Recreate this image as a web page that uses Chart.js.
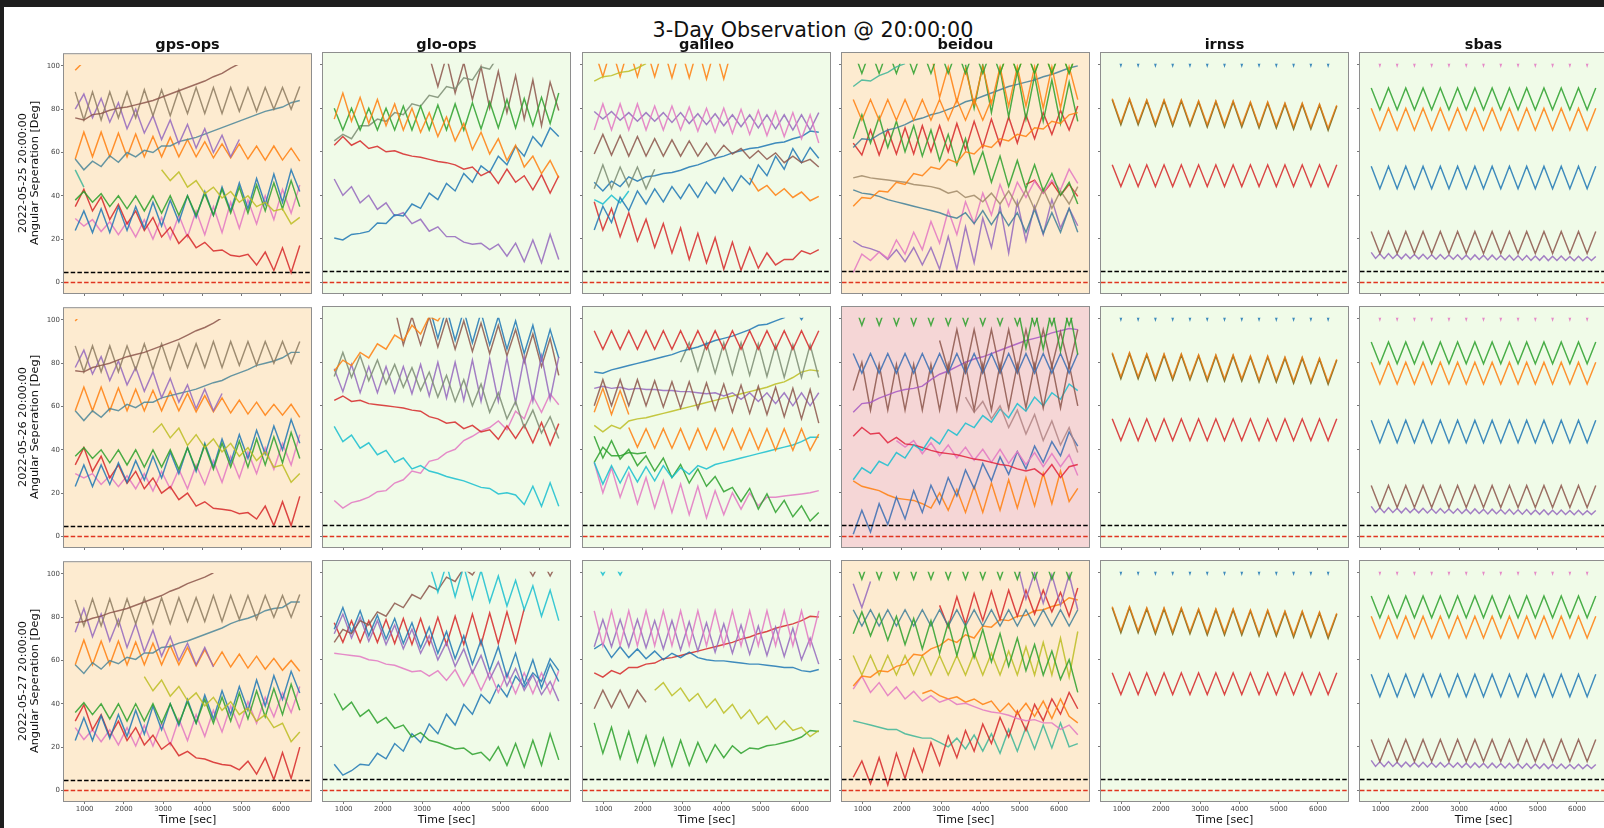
<!DOCTYPE html>
<html>
<head>
<meta charset="utf-8">
<title>3-Day Observation @ 20:00:00</title>
<script src="https://cdn.jsdelivr.net/npm/chart.js@4.4.1/dist/chart.umd.min.js"></script>
<style>
  html, body { margin: 0; padding: 0; background: #fff; }
  body { width: 1604px; height: 828px; position: relative; overflow: hidden; font-family: "DejaVu Sans", sans-serif; color: #111; }
  .bar { position: absolute; background: #1e1e1e; }
  canvas { position: absolute; }
  .txt { position: absolute; white-space: nowrap; line-height: 1; }
  .sup { font-size: 20.7px; transform: translateX(-50%); }
  .col { font-size: 14.5px; font-weight: bold; transform: translateX(-50%); }
  .xl { font-size: 11px; transform: translateX(-50%); }
  .yl { font-size: 11.3px; transform: translate(-50%, -50%) rotate(-90deg); }
</style>
</head>
<body>
<div class="bar" style="left:0;top:0;width:1604px;height:7px"></div>
<div class="bar" style="left:0;top:0;width:4px;height:828px"></div>
<script>
const _ = null;

// ---- time axis (seconds) ----
const T = [760, 980, 1200, 1420, 1640, 1860, 2080, 2300, 2520, 2740, 2960, 3180, 3400, 3620, 3840, 4060, 4280, 4500, 4720, 4940, 5160, 5380, 5600, 5820, 6040, 6260, 6480];
const T_HALF = [760, 870, 980, 1090, 1200, 1310, 1420, 1530, 1640, 1750, 1860, 1970, 2080, 2190, 2300, 2410, 2520, 2630, 2740, 2850, 2960, 3070, 3180, 3290, 3400, 3510, 3620, 3730, 3840, 3950, 4060, 4170, 4280, 4390, 4500, 4610, 4720, 4830, 4940, 5050, 5160, 5270, 5380, 5490, 5600, 5710, 5820, 5930, 6040, 6150, 6260, 6370, 6480];

const CONSTELLATIONS = ['gps-ops', 'glo-ops', 'galileo', 'beidou', 'irnss', 'sbas'];
const DAYS = ['2022-05-25 20:00:00', '2022-05-26 20:00:00', '2022-05-27 20:00:00'];
const STATUS = [
  ['warn', 'ok', 'ok', 'warn', 'ok', 'ok'],
  ['warn', 'ok', 'ok', 'alert', 'ok', 'ok'],
  ['warn', 'ok', 'ok', 'warn', 'ok', 'ok']
];
const X_TICKS = [1000, 2000, 3000, 4000, 5000, 6000];
const Y_TICKS = [0, 20, 40, 60, 80, 100];
const THRESHOLD_VALUES = [5, 0];
const THRESHOLD_COLORS = ['#000000', '#e0341f'];

// ---- gps-ops, day 1 ----
const g1_orangeTop = [98, 102];
const g1_brown = [76, 75, 77.5, 78, 79.5, 80.5, 81, 82, 83, 84, 85.5, 87, 88.5, 90, 91.5, 93, 95, 96.5, 99, 101];
const g1_olive = [88, 75, 88, 75, 88, 76, 88, 76, 89, 77, 89, 77, 89, 78, 90, 78, 90, 78, 90, 79, 90, 79, 90, 80, 90, 80, 90.5];
const g1_purple = [80, 87, 76, 85, 74, 83, 71, 80, 69, 77, 66, 75, 64, 73, 62, 71, 60, 68, 58, 66];
const g1_teal = [57, 52, 56, 53.5, 58.5, 55.5, 60, 58, 61, 60, 63, 63, 65, 66, 67, 68.5, 70, 71.5, 73, 74.5, 76, 77.5, 79, 80, 81, 83, 84];
const g1_orange = [57, 69.5, 58, 69.5, 58, 69, 58, 68.5, 58, 67.5, 58, 67, 58, 66, 58, 65, 57.5, 64, 57.5, 64, 57, 63, 56.5, 63, 56.5, 62, 56];
const g1_greenShort = [52, 44];
const g1_yellow = [_, _, _, _, _, _, _, _, _, _, 52, 47, 51, 44, 47, 41, 44, 39, 42, 37, 40, 35, 37, 33, 34, 27, 30];
const g1_green = [38, 42, 37, 41, 35, 40, 34, 40, 33, 40, 32, 40, 31, 40, 31, 41, 31, 43, 32, 44, 32, 45, 33, 46, 34, 47, 35];
const g1_blue = [24, 33, 23, 34, 23, 35, 24, 35, 25, 37, 26, 38, 28, 40, 30, 42, 31, 44, 33, 46, 34, 48, 36, 50, 37, 52, 42];
const g1_red = [35, 43, 33, 39.5, 29, 36, 27, 33, 24, 30, 21, 25.5, 18, 22, 16, 18.5, 14.5, 15, 12.5, 12, 13, 8, 14, 5.5, 16, 4.5, 17];
const g1_pink = [29.5, 26, 29, 23.5, 28, 22, 28, 21, 29, 20, 30, 20, 31, 21, 33, 22, 35, 23, 37, 25, 38, 27, 40, 29, 43, 32, 45];

// ---- gps-ops, day 2 ----
const g2_orangeTop = [99.5, 104];
const g2_brown = [76.5, 76, 78, 79, 80, 81.5, 83, 84, 85, 86.5, 88, 89.5, 91, 93, 95, 96.5, 98.5, 101];
const g2_olive = [88, 76, 88, 76, 88, 76, 88, 77, 89, 77, 89, 77, 89, 78, 89, 78, 90, 78, 90, 79, 90, 79, 90, 80, 90, 80, 90];
const g2_purple = [78, 86, 75, 83, 72, 81, 70, 78, 67, 76, 64, 73, 62, 70, 59, 68, 58, 66];
const g2_teal = [58, 53.5, 58, 55, 59, 58, 61, 59.5, 62, 62, 64, 65, 66, 67, 68, 69.5, 71, 72, 74, 75.5, 77, 79, 80, 81, 82.5, 85, 85];
const g2_orange = [58, 69, 58, 69, 58, 68.5, 58, 68, 58, 67.5, 58, 67, 58, 66, 57.5, 65, 57.5, 64, 57, 63, 56.5, 62, 56, 61, 56, 61, 55];
const g2_yellow = [_, _, _, _, _, _, _, _, _, 48, 52, 45.5, 50, 42, 47, 41, 45, 39, 43, 37, 41, 35, 39, 32, 33, 25, 29];
const g2_green = [37, 41, 36, 40, 34, 40, 33, 40, 32, 40, 32, 40, 31, 41, 31, 42, 31, 43, 32, 44, 32, 45, 33, 46, 34, 48, 36];
const g2_blue = [23, 33, 23, 33, 24, 34, 25, 35, 26, 37, 27, 39, 29, 41, 30, 43, 32, 45, 34, 47, 36, 49, 38, 51, 40, 54, 43];
const g2_red = [33, 41, 30, 37, 27, 33, 24.5, 30, 22, 27, 20, 23, 17, 20, 14, 16, 13, 12.5, 12, 10.5, 11, 8, 14, 5, 16, 5, 18.5];
const g2_pink = [29, 27, 29, 24, 28, 23, 28, 22, 29, 21, 30, 22, 31, 22, 33, 24, 35, 25, 37, 27, 39, 29, 41, 31, 43, 33, 47];

// ---- gps-ops, day 3 ----
const g3_brown = [77.5, 78, 79.5, 80.5, 82, 83, 84, 85.5, 87, 88.5, 90, 92, 93.5, 95.5, 97, 98.5, 100.5];
const g3_olive = [88, 76, 88.5, 76, 88.5, 76, 88.5, 77, 89, 77, 89, 77, 89, 78, 89, 78, 90, 78, 90, 79, 90, 79, 90, 80, 90, 80, 90.5];
const g3_purple = [73, 84, 71, 81.5, 69, 79, 66, 77, 64, 74, 62, 71, 60, 68, 58, 66, 57];
const g3_teal = [58, 54, 59, 56, 60, 58.5, 61.5, 60.5, 63.5, 63.5, 66, 66.5, 68, 69, 70.5, 72, 73.5, 75, 77, 78.5, 79.5, 81, 83, 84, 84.5, 87, 87];
const g3_orange = [58, 69.5, 58, 69, 58, 69, 58, 68.5, 58, 68, 58, 67, 58, 66, 57.5, 65, 57.5, 64, 57, 63, 56.5, 62, 56, 61, 55.5, 60, 55];
const g3_yellow = [_, _, _, _, _, _, _, _, 52.5, 46, 51, 43.5, 48, 41.5, 45, 39, 43, 37, 41, 35, 38, 32, 35, 29, 31, 22.5, 27];
const g3_green = [36, 40.5, 35, 40, 33, 40, 32, 40, 32, 40, 31, 40, 31, 41, 31, 42, 31, 43, 32, 45, 33, 46, 34, 47, 35, 49, 37];
const g3_blue = [23, 33.5, 23, 34.5, 24, 35, 25, 37, 26, 39, 28, 40, 30, 42, 31, 44, 33, 46, 35, 48, 37, 51, 39, 53, 42, 55, 45];
const g3_red = [32, 39.5, 28, 35, 25, 32, 23, 29, 21, 25.5, 19, 22, 16, 18, 15, 14.5, 13, 12, 11.5, 9.5, 13.5, 7.5, 15, 5, 17.5, 5.5, 20];
const g3_pink = [29, 23.5, 28, 22.5, 28, 21, 29, 20.5, 30, 20.5, 31, 21, 33, 23, 35, 25, 37, 27, 39, 29, 41, 31, 43, 34, 45, 36, 48];

// ---- glo-ops ----
const o1_orange = [75, 87, 74, 85, 73, 84, 72, 82, 70, 80, 69, 78, 67, 76, 65, 73, 61, 69, 59, 66, 56, 63, 53, 58, 50, 56, 48];
const o1_green = [80, 70, 80, 70, 80, 70, 80, 70, 81, 70, 81, 70, 81.5, 70, 82, 70, 82.5, 70.5, 83, 71, 84, 71, 84.5, 72, 85, 73, 87];
const o1_gray = [65, 68, 66, 72, 72, 75, 74, 78, 77, 82, 81, 86, 85, 90, 89, 94, 93, 99, 98, 104];
const o1_brown = [_, _, _, _, _, _, _, _, _, _, _, 104, 90, 104, 87, 101, 84, 99, 80, 97, 78, 95, 75, 93, 72, 92, 79];
const o1_red = [63, 67, 63, 65, 61.5, 62.5, 60, 60.5, 59, 58, 57.5, 56.5, 55.5, 55, 54, 52, 53, 49, 51, 45.5, 52, 46, 49, 42.5, 49.5, 41, 49];
const o1_blue = [20.4, 19.5, 22, 22.5, 23.4, 27.3, 27, 31, 30.5, 36, 34, 41, 38, 45.5, 42, 50, 46, 53.5, 50.5, 58, 54, 62.5, 58, 67, 62.5, 71, 67];
const o1_purple = [47.5, 40, 44, 36.5, 40, 33.5, 36.5, 30.5, 32, 27, 29, 23.5, 25.5, 21, 21, 18.5, 17.5, 18, 15, 17.5, 12, 18, 9.5, 19.5, 9, 22, 10.5];

const o2_orange = [76, 81, 78.5, 84.5, 82, 88.5, 86, 92.5, 90, 97, 93, 101, 99, 105];
const o2_gray = [73.5, 84.5, 73, 83, 71.5, 81, 70, 79, 68.5, 77.5, 67, 75.5, 64, 74, 62, 72, 60, 70, 57, 66, 54, 62, 50, 58, 47.5, 55, 45];
const o2_purple = [77, 66.5, 79, 66, 78, 66, 78, 66, 78, 65.5, 79, 64.5, 80, 63.5, 80, 62.5, 81, 62, 81.5, 62, 82, 61.5, 82.5, 62, 83, 63, 82.5];
const o2_brown = [_, _, _, _, _, _, _, 105, 88, 101, 88, 101, 87, 100, 86, 99, 85, 98, 84, 97, 83, 95, 80, 93, 78, 91, 74];
const o2_blue = [_, _, _, _, _, _, _, _, _, _, _, 106, 91, 105, 90, 104, 89, 103, 88, 101, 86, 99, 84, 97, 81, 95, 82];
const o2_red = [62.5, 64.5, 62, 62.5, 61, 60.5, 60, 59.5, 59, 58, 57.5, 55, 54, 52, 52.5, 49.5, 51, 48, 49, 44.6, 50.8, 45, 51.2, 43, 52.3, 42, 51.8];
const o2_cyan = [50.5, 43.5, 46.5, 40.5, 43, 37.5, 39.5, 34, 36, 31, 32.5, 30, 29, 27.5, 26.5, 25.5, 24, 22.5, 22, 19.5, 20, 19, 14.6, 23, 13.8, 24.6, 13.8];
const o2_pink = [16.5, 13, 15.5, 16.5, 18, 20.5, 21, 24.5, 26, 30, 29, 34.5, 35.5, 38.5, 40, 44, 46, 48.5, 50, 53, 49, 57.5, 54, 64.5, 57, 65.5, 60.5];

const o3_cyan = [_, _, _, _, _, _, _, _, _, _, _, 104, 91, 104, 89, 103, 88, 101, 86.5, 98.5, 84.7, 96.5, 83, 94, 80, 92, 78];
const o3_brown = [68, 74, 72, 78, 76, 82, 80, 86, 84, 90, 88, 94, 92, 98, 96, 102, 99, 105, 104, 106, 105, 106, 105, 98.5, 106, 98.5, 106];
const o3_blue = [74, 84, 72.5, 82.5, 71, 80.5, 69.5, 79, 67.5, 77, 65.5, 75, 63, 73, 60.5, 71, 58, 69, 55, 66, 52, 63, 49, 60, 47, 58, 50];
const o3_purple = [72, 81, 70, 79.5, 68.5, 78, 67, 76, 65, 74, 63, 71, 60, 68, 57, 65, 54, 62, 51, 59, 48, 56, 46, 53, 44, 50, 41];
const o3_red = [77, 68, 78, 68, 78, 68, 78.5, 67.5, 79, 67, 79, 67, 79.5, 67, 80, 67, 81, 67, 81.5, 67.5, 82, 68, 83.5];
const o3_pink = [63, 62.5, 62, 61.5, 60, 59.5, 58, 57.5, 56, 54.5, 55, 52.5, 55, 50.5, 55.5, 48, 55, 46, 54.5, 45, 54, 44.5, 54, 44.5, 54, 44.5, 55];
const o3_green = [44.5, 37, 40.5, 34, 37, 31, 33.5, 28.5, 30, 24.5, 26.5, 23, 22, 20.5, 19, 19.5, 16.5, 17.5, 13.7, 20, 11.5, 21.5, 10.7, 23, 11.5, 26, 14];
const o3_blue2 = [12, 7, 9, 12, 11.5, 17, 14.5, 21.5, 18, 26, 22, 30.5, 26, 35, 30, 39.5, 35, 44, 40, 48.5, 43, 52.5, 47.5, 54, 50, 60.5, 55];

// ---- galileo ----
const e1_olive = [92.5, 94.5, 95, 96.5, 97, 98.5, 100.5];
const e1_orangeV = [107, 94.5, 108, 94.5, 108, 94.5, 108, 94.5, 108, 94, 108, 94, 108, 93.5, 108, 93.5, 108];
const e1_pink = [70, 82, 70, 82, 70, 82, 70, 81, 70, 81, 70, 80.5, 69.5, 80, 69, 80, 68.5, 79.5, 68, 79, 67.5, 78.5, 67, 78, 66, 77, 64];
const e1_purple = [78.5, 75, 78.5, 74.5, 78, 74, 78, 74, 78, 73.5, 78, 73, 77.5, 72.5, 77.5, 72, 77, 71.5, 77, 71, 77, 70.5, 77, 70, 77, 70, 78];
const e1_brown = [59, 68, 58.5, 67.5, 58, 67, 58, 66, 58, 65.5, 58, 65, 58, 64, 58, 63, 59, 61.5, 57, 60.5, 56.5, 59.5, 55, 58, 55, 56.5, 53];
const e1_gray = [43, 54, 43, 53, 44, 53, 43, 52];
const e1_blueSmooth = [46, 42, 46.5, 44, 48.5, 46.5, 48.5, 49, 50, 50.5, 51.5, 53, 54, 55.5, 57, 58, 59.5, 60.5, 61.5, 62, 63, 64, 64.5, 66, 67, 69.5, 69];
const e1_blueZig = [24, 35, 27.5, 39, 33, 42, 36, 43, 37, 44, 38.5, 45, 39, 46, 41, 48, 42, 49, 45, 54, 49, 58, 52, 61.5, 55, 62, 57];
const e1_cyan = [38, 36, 40, 36.5, 42];
const e1_orange = [_, _, _, _, _, _, _, _, _, _, _, _, _, _, _, _, _, _, 48, 42, 44.5, 40, 43, 39, 41.5, 37.5, 39.5];
const e1_red = [37, 24, 34, 21, 32, 19, 29, 16, 27, 13.5, 25, 10.5, 22.5, 9, 20.5, 6, 18.5, 5.5, 16, 6.5, 13.5, 8, 10.5, 10.5, 14.5, 13, 15];

const e2_red = [94.5, 86, 94.5, 86, 94.5, 86, 94.5, 86, 94.5, 86, 94.5, 86, 94.5, 86, 94.5, 86, 94.5, 86, 94.5, 86, 94.5, 86, 94.5, 86, 94.5, 86, 94.5];
const e2_blue = [75.5, 75, 76.5, 77.5, 78.5, 79.5, 80.5, 81.5, 82.5, 83.5, 85, 86, 87, 88.5, 90, 91, 92, 93.5, 95, 97, 97.5, 99, 100.5, 106, 99.6, 106];
const e2_gray = [_, _, _, _, _, _, _, _, _, _, 80, 89, 76, 89, 75, 89, 74.5, 89, 74, 88.5, 73.5, 88, 73, 88, 73, 88, 73];
const e2_brown = [60, 72, 60, 72, 60, 72, 60, 71.5, 59.5, 71, 59, 71, 58.5, 70.5, 58, 70, 57, 69.5, 56.5, 69, 56, 68.5, 55, 68, 54, 67.5, 52];
const e2_purple = [68, 69, 68, 68.5, 67.5, 68, 67.5, 67.5, 67, 67, 66.5, 66.5, 66, 65.5, 66, 64.5, 66, 63, 66, 62, 66, 61, 66, 60, 66, 60, 66];
const e2_orange1 = [57, 68, 56, 67, 56];
const e2_olive = [51, 48, 51, 49.5, 53, 54, 54.5, 55.5, 56.5, 57.5, 58.5, 59.5, 60.5, 61.5, 62.5, 63.5, 64.5, 65.5, 66.5, 67.5, 68.5, 70, 71, 73, 75.5, 76.5, 76];
const e2_orange2 = [_, _, _, _, 50, 41, 49.5, 40.5, 49.5, 40.5, 49.5, 40, 49.5, 40, 49.5, 40, 49.5, 40, 49.5, 40, 49.5, 39.5, 49.5, 39.5, 49.5, 39.5, 47];
const e2_cyan = [34, 24, 32.5, 24.5, 32, 25, 32, 25.5, 32.5, 27, 31.5, 28.5, 32.5, 31, 33, 34, 35, 36, 37, 38, 39, 40, 41, 42, 43.5, 45.5, 45.5];
const e2_green = [46, 36, 44, 35.5, 40, 32.5, 37, 30, 36, 27, 33, 24.5, 31, 23, 27.5, 20.5, 22.5, 16, 22, 12.5, 19.5, 11, 16.5, 9, 14, 7, 11];
const e2_green2 = [34, 41, 37, 37, 38.5, 38, 38.5];
const e2_pink = [34, 20, 31.5, 18, 29, 15, 27, 13, 25.5, 11, 24, 10, 23, 8.5, 21, 10, 20, 12.5, 20, 14, 18, 18, 18.5, 19, 19.5, 20, 21];

const e3_cyan = [106, 99, 106, 99, 106];
const e3_pink = [82.5, 66.5, 82.5, 66.5, 82.5, 66.5, 82.5, 66.5, 82.5, 66.5, 82.5, 66.5, 82.5, 66.5, 82.5, 66.5, 82.5, 66.5, 82.5, 66.5, 82.5, 66.5, 82.5, 66.5, 82.5, 66.5, 82.5];
const e3_purple = [66, 78.5, 66, 78.5, 66, 78.5, 65.5, 78, 65, 78, 64.5, 77.5, 64, 77, 63.5, 76.5, 63, 76, 62.5, 75.5, 62, 75, 61.5, 74.5, 60, 70, 58];
const e3_blue = [65, 67.5, 61, 66, 61, 65, 60.5, 64, 60, 63, 61, 63.5, 61, 60, 59.5, 59.5, 59, 58.5, 58, 58, 57.5, 57, 56.5, 56.5, 55, 54.5, 55.5];
const e3_red = [54, 52, 55, 53.5, 56.5, 56.5, 58, 58.5, 60.5, 61, 62, 63, 64, 65, 66, 67, 68, 69.5, 70.5, 72, 73, 74.5, 75.5, 76.5, 78, 80, 79.7];
const e3_brown = [37.5, 46, 38, 46, 38, 46, 40.5];
const e3_yellow = [_, _, _, _, _, _, _, 46, 49.5, 43.5, 47, 41, 44.5, 38, 42, 35.5, 39.5, 33, 37, 30.5, 34, 28, 32, 27.5, 29, 24.7, 27.5];
const e3_green = [31, 17, 29, 14.5, 27, 13, 25, 11.5, 24, 11, 23, 11.5, 22, 13, 21, 15, 20.5, 17, 19.5, 19, 20.5, 21, 22, 23, 24.5, 27.5, 27];

// ---- beidou ----
const b1_teal = [90, 93, 92.5, 95, 96.5, 99, 100.5];
const b1_greenV = [107, 96, 107, 96, 107, 96, 107, 96, 107, 96, 107, 96, 107, 96, 107, 96, 107, 96, 107, 96, 107, 96, 107, 96, 107, 96, 107];
const b1_oliveV = [_, _, _, _, _, _, _, _, _, _, _, _, _, _, _, _, _, 96, 107, 96, 107, 96, 107, 96, 107, 96, 107];
const b1_orange1 = [84, 74.5, 84, 74.5, 84, 74.5, 84, 74.5, 84, 74.5, 84, 74.5, 84, 74.5, 84, 74.5, 84];
const b1_orange2 = [_, _, _, _, _, _, _, _, _, 106, 85, 99, 83, 98, 82, 99, 82, 99, 81, 99, 81, 99, 80, 99, 80, 99, 84];
const b1_orange3 = [35, 39, 38.5, 42, 41.5, 46, 45, 50, 49, 53, 52, 56.5, 55, 60, 59, 63, 62, 66, 65, 68, 67, 71, 70.5, 74, 73, 77, 78];
const b1_steel = [62, 66, 65.5, 68, 70, 71, 72.5, 74.5, 75.5, 77, 78, 79.5, 81, 83, 84, 85.5, 87, 88.5, 90, 91, 92, 93, 94.5, 95.5, 97, 98.5, 99.5];
const b1_green1 = [66, 77, 64, 76, 62, 74, 60, 72, 58, 70, 56, 68, 54, 66, 50, 60, 46, 58, 44, 56, 43, 54, 42, 50, 40, 46, 36];
const b1_green2 = [_, _, _, _, _, _, _, _, _, _, _, _, _, 100, 80, 100, 78, 98, 76, 97, 75, 95, 74, 93, 73, 92, 74];
const b1_red = [64, 58.5, 70, 58.5, 70, 59, 71, 59, 72, 60, 72, 60, 73, 61, 74, 62, 75, 63, 76, 64, 77, 66, 78, 68, 79, 70, 81];
const b1_tan = [48, 49, 48, 47.5, 47, 46.5, 46, 45, 44.5, 44, 43, 41, 42, 39, 40, 37, 41, 36, 42, 35, 42.5, 33.5, 43, 34, 42, 36, 44];
const b1_blueDk = [42.5, 41, 40.5, 39.5, 38, 37, 36, 35, 34, 33, 32, 30.5, 29.5, 32, 27, 33, 26.5, 32.5, 26, 32, 23, 33.5, 22.5, 32, 23, 34, 23];
const b1_pink = [4.5, 13, 10, 14, 11, 19.5, 13, 23, 15, 28, 18, 33, 22, 37, 27, 41, 31, 45, 35, 46, 39, 46.5, 41, 47, 42.5, 52, 45.5];
const b1_purple = [19, 16.5, 15.5, 14, 10.5, 15, 9.5, 16, 8, 16, 6, 21, 6, 25.5, 9, 29.5, 16, 35, 13.5, 37, 19, 35, 22, 38, 25, 34, 26];
const b1_red2 = [_, _, _, _, _, _, _, _, _, _, _, _, _, _, _, _, _, _, _, _, 45, 47, 41, 46, 40, 45, 39.5];

const b2_greenV = [108, 97, 108, 97, 108, 97, 108, 97, 108, 97, 108, 97, 108, 97, 108, 97, 108, 97, 108, 97, 108, 97, 108, 97, 108, 97, 108];
const b2_green2 = [_, _, _, _, _, _, _, _, _, _, _, _, _, _, _, _, _, _, _, 106, 86.5, 105, 86, 105, 85, 105, 83.5];
const b2_brownU = [_, _, _, _, _, _, _, _, _, _, 90, 76, 95, 76, 95, 76, 95, 76, 95, 76, 95, 77, 95, 78, 94, 78, 95];
const b2_blue = [84, 75, 84, 75, 84, 75, 84, 75, 84, 75, 84, 75, 84, 75, 84, 75, 84, 75, 84, 75, 84, 75, 84, 75, 84, 75, 84];
const b2_purple = [57, 61, 61.5, 63.5, 65, 66.5, 67.5, 68, 69, 72, 74.5, 76, 78, 80, 81.5, 82.5, 84, 85.5, 87, 88.5, 90, 91, 92, 93.5, 94.5, 95.5, 95];
const b2_brownA = [67, 80, 58, 79, 58, 79, 58, 79, 58, 79, 58, 79, 58, 79, 58, 79, 58, 79, 58.5, 79, 59, 79, 59, 79, 59, 79, 60];
const b2_rosy = [_, _, _, _, _, _, _, _, _, _, _, _, _, 64, 57, 62, 54, 60, 50, 58, 47, 56, 44, 53, 42, 50, 38.5];
const b2_cyan = [26, 31.5, 29, 34.5, 32.5, 38.5, 36, 42, 39.5, 45.5, 42.5, 49, 46.5, 52, 50, 55.5, 52.5, 58.5, 54.5, 61, 57.5, 64, 60, 66, 63, 70, 67];
const b2_red = [46, 50, 47, 47.5, 43, 45.5, 42.5, 42, 40.8, 39.5, 38.5, 38, 37.5, 36.5, 35.5, 35, 34, 33, 32.5, 31, 30, 31, 28, 33, 27, 32, 33];
const b2_pink = [_, _, _, _, _, 44, 41, 44, 38, 43, 37, 42, 36, 41, 35, 40, 34, 40, 33.5, 39, 33, 38.5, 32, 38, 32, 37.5, 28];
const b2_blue2 = [1, 12, 2, 15, 5.5, 18, 8, 21, 11, 23.5, 15, 27, 18.5, 30.5, 22, 33.5, 25.5, 36.5, 28.5, 39, 31, 41.5, 34, 43.5, 37, 48, 41.5];
const b2_orange = [25.5, 23, 22, 21, 19, 17.5, 17, 16.5, 15, 13, 20, 12, 21.5, 11, 23, 11, 24.5, 12, 26, 13, 27, 14, 29, 15, 30, 16, 22];

const b3_greenV = [108, 97, 108, 97, 108, 97, 108, 97, 108, 97, 108, 97, 108, 97, 108, 97, 108, 97, 108, 97, 108, 97, 108, 97, 108, 97, 108];
const b3_purple = [95, 84, 96];
const b3_purple2 = [_, _, _, _, _, _, _, _, _, _, _, _, _, _, _, _, _, _, _, 104, 88, 100, 86, 99, 85, 99, 83];
const b3_green = [72, 82, 71, 81, 69, 80, 67, 79, 65, 78, 63, 77, 62, 76, 61, 74, 59, 72, 57, 70, 55, 67, 53, 64, 51, 60, 45];
const b3_blue = [83, 75.5, 83, 75.5, 83, 75.5, 83, 75.5, 83, 75.5, 83, 75.5, 83, 75.5, 83, 75.5, 83, 75.5, 83, 75.5, 83, 75.5, 83, 75.5, 83, 75.5, 83];
const b3_red = [_, _, _, _, _, _, _, _, _, _, 85, 75, 89, 76.5, 90.5, 78, 91.5, 78.5, 92, 80, 92, 81, 92, 82, 91, 80, 93];
const b3_orange = [48, 52.5, 52, 55, 54.5, 57, 58, 62.5, 62, 65, 66.5, 69.5, 68, 71.5, 70, 75.5, 75, 78.5, 78, 80, 80.5, 82.5, 83, 84.5, 85.5, 88.5, 87.5];
const b3_yellow = [62, 53, 62, 53, 62, 53, 62, 53, 62, 53, 62, 53, 62, 53, 63, 53, 63, 53, 64, 53, 66, 53, 68, 53, 70, 52, 73];
const b3_pink = [46.5, 52.5, 45, 49.5, 43.5, 47.5, 42, 45.5, 41, 43.5, 40.5, 42, 39.5, 40, 38.5, 37, 36, 35.5, 34.5, 33, 32, 32.5, 31, 31, 28, 30, 25.5];
const b3_orange2 = [_, _, _, _, _, _, _, _, 44.5, 46, 43.5, 42, 43, 40.5, 42, 39.5, 41, 36, 40, 35, 40, 34, 41, 33, 42, 34, 31];
const b3_red2 = [6, 13.5, 3, 15, 2.5, 17, 5.5, 19, 8.5, 22, 11.5, 25, 15, 27.5, 18, 30.5, 21.5, 33.5, 24.5, 36.5, 27.5, 39.5, 32, 42, 35, 45, 37.5];
const b3_teal = [32, 31, 30, 29, 28, 28, 26, 25, 24, 24, 22, 20, 24, 19, 25.5, 18, 26, 17, 28, 18, 29, 19, 30, 19.5, 31, 20, 21.5];

// ---- irnss (same geometry each day) ----
const ir_top = [112, 99.6, 112, 99.6, 112, 99.6, 112, 99.6, 112, 99.6, 112, 99.6, 112, 99.6, 112, 99.6, 112, 99.6, 112, 99.6, 112, 99.6, 112, 99.6, 112, 99.6, 112];
const ir_orange = [84.5, 73.5, 84.5, 73.5, 84, 73, 84, 73, 84, 73, 83.5, 72.5, 83.5, 72.5, 83.5, 72.5, 83, 72, 83, 72, 82.5, 71.5, 82.5, 71.5, 82, 71, 81.5];
const ir_olive = [84, 72.5, 84, 72.5, 83.5, 72, 83.5, 72, 83.5, 72, 83, 71.5, 83, 71.5, 83, 71.5, 82.5, 71, 82.5, 71, 82, 70.5, 82, 70.5, 81.5, 70, 81];
const ir_red = [54, 44, 54, 44, 54, 44, 54, 44, 54, 44, 54, 44, 54, 44, 54, 44, 54, 44, 54, 44, 54, 44, 54, 44, 54, 44, 54];

// ---- sbas (same geometry each day) ----
const sb_top = [112, 99.6, 112, 99.6, 112, 99.6, 112, 99.6, 112, 99.6, 112, 99.6, 112, 99.6, 112, 99.6, 112, 99.6, 112, 99.6, 112, 99.6, 112, 99.6, 112, 99.6, 112];
const sb_green = [89.3, 79.3, 89.3, 79.3, 89.3, 79.3, 89.3, 79.3, 89.3, 79.3, 89.3, 79.3, 89.3, 79.3, 89.3, 79.3, 89.3, 79.3, 89.3, 79.3, 89.3, 79.3, 89.3, 79.3, 89.3, 79.3, 89.3];
const sb_orange = [80, 70, 80, 70, 80, 70, 80, 70, 80, 70, 80, 70, 80, 70, 80, 70, 80, 70, 80, 70, 80, 70, 80, 70, 80, 70, 80];
const sb_blue = [53.3, 43, 53.3, 43, 53.3, 43, 53.3, 43, 53.3, 43, 53.3, 43, 53.3, 43, 53.3, 43, 53.3, 43, 53.3, 43, 53.3, 43, 53.3, 43, 53.3, 43, 53.3];
const sb_brown = [23.4, 13.2, 23.4, 13.2, 23.4, 13.2, 23.4, 13.2, 23.4, 13.2, 23.4, 13.2, 23.4, 13.2, 23.4, 13.2, 23.4, 13.2, 23.4, 13.2, 23.4, 13.2, 23.4, 13.2, 23.4, 13.2, 23.4];
const sb_purple = [13.8, 11.0, 13.1, 10.9, 13.2, 11.0, 12.9, 10.8, 13.0, 10.9, 12.8, 10.8, 12.9, 10.7, 12.7, 10.6, 12.8, 10.7, 12.6, 10.6, 12.7, 10.5, 12.5, 10.4, 12.6, 10.5, 12.4, 10.3, 12.5, 10.4, 12.3, 10.3, 12.4, 10.2, 12.2, 10.2, 12.3, 10.1, 12.1, 10.1, 12.2, 10.0, 12.0, 10.0, 12.1, 10.0, 11.9, 9.9, 12.0, 9.9, 11.8, 10.0, 11.9];

// ---- line colours ----
const C = {
  blue: '#1f77b4', orange: '#ff7f0e', green: '#2ca02c', red: '#d62728', purple: '#9467bd',
  brown: '#8c564b', pink: '#e377c2', gray: '#7f7f7f', olive: '#bcbd22', cyan: '#17becf',
  khaki: '#8d7b60', teal: '#4b8699', aqua: '#3cb596', grayGreen: '#7b8c72', tan: '#a08a68',
  steel: '#3f7f99', rosy: '#b08484', royal: '#3a6db3', violet: '#a657c2', crimson: '#e0223c', irOlive: '#837630'
};

// [values, colour, time axis, width, opacity]
const IRNSS = [[ir_top, C.blue], [ir_orange, C.orange, _, 1.3, 0.7], [ir_olive, C.irOlive, _, 1.6, 1], [ir_red, C.red]];
const SBAS = [[sb_top, C.pink], [sb_green, C.green], [sb_orange, C.orange], [sb_blue, C.blue], [sb_brown, C.brown], [sb_purple, C.purple, T_HALF]];

const PANEL_SERIES = [
  [
    [[g1_orangeTop, C.orange], [g1_brown, C.brown], [g1_olive, C.khaki], [g1_purple, C.purple], [g1_teal, C.teal], [g1_orange, C.orange], [g1_greenShort, C.aqua], [g1_yellow, C.olive], [g1_green, C.green], [g1_blue, C.blue], [g1_red, C.red], [g1_pink, C.pink]],
    [[o1_orange, C.orange], [o1_green, C.green], [o1_gray, C.grayGreen], [o1_brown, C.brown], [o1_red, C.red], [o1_blue, C.blue], [o1_purple, C.purple]],
    [[e1_olive, C.olive], [e1_orangeV, C.orange], [e1_pink, C.pink], [e1_purple, C.purple], [e1_brown, C.brown], [e1_gray, C.grayGreen], [e1_blueSmooth, C.blue], [e1_blueZig, C.blue], [e1_cyan, C.cyan], [e1_orange, C.orange], [e1_red, C.red]],
    [[b1_teal, C.aqua], [b1_greenV, C.green], [b1_oliveV, C.olive], [b1_orange1, C.orange], [b1_orange2, C.orange], [b1_orange3, C.orange], [b1_steel, C.steel], [b1_green1, C.green], [b1_green2, C.green], [b1_red, C.red], [b1_tan, C.tan], [b1_blueDk, C.steel], [b1_pink, C.pink], [b1_purple, C.purple], [b1_red2, C.red]],
    IRNSS, SBAS
  ],
  [
    [[g2_orangeTop, C.orange], [g2_brown, C.brown], [g2_olive, C.khaki], [g2_purple, C.purple], [g2_teal, C.teal], [g2_orange, C.orange], [g2_yellow, C.olive], [g2_green, C.green], [g2_blue, C.blue], [g2_red, C.red], [g2_pink, C.pink]],
    [[o2_orange, C.orange], [o2_gray, C.grayGreen], [o2_purple, C.purple], [o2_brown, C.brown], [o2_blue, C.blue], [o2_red, C.red], [o2_cyan, C.cyan], [o2_pink, C.pink]],
    [[e2_red, C.red], [e2_blue, C.blue], [e2_gray, C.grayGreen], [e2_brown, C.brown], [e2_purple, C.purple], [e2_orange1, C.orange], [e2_olive, C.olive], [e2_orange2, C.orange], [e2_cyan, C.cyan], [e2_green, C.green], [e2_green2, C.green], [e2_pink, C.pink]],
    [[b2_greenV, C.green], [b2_green2, C.green], [b2_brownU, C.brown], [b2_blue, C.royal], [b2_purple, C.violet], [b2_brownA, C.brown], [b2_rosy, C.rosy], [b2_cyan, C.cyan], [b2_red, C.crimson], [b2_pink, C.pink], [b2_blue2, C.royal], [b2_orange, C.orange]],
    IRNSS, SBAS
  ],
  [
    [[g3_brown, C.brown], [g3_olive, C.khaki], [g3_purple, C.purple], [g3_teal, C.teal], [g3_orange, C.orange], [g3_yellow, C.olive], [g3_green, C.green], [g3_blue, C.blue], [g3_red, C.red], [g3_pink, C.pink]],
    [[o3_cyan, C.cyan], [o3_brown, C.brown], [o3_blue, C.blue], [o3_purple, C.purple], [o3_red, C.red], [o3_pink, C.pink], [o3_green, C.green], [o3_blue2, C.blue]],
    [[e3_cyan, C.cyan], [e3_pink, C.pink], [e3_purple, C.purple], [e3_blue, C.blue], [e3_red, C.red], [e3_brown, C.brown], [e3_yellow, C.olive], [e3_green, C.green]],
    [[b3_greenV, C.green], [b3_purple, C.purple], [b3_purple2, C.purple], [b3_green, C.green], [b3_blue, C.steel], [b3_red, C.red], [b3_orange, C.orange], [b3_yellow, C.olive], [b3_pink, C.pink], [b3_orange2, C.orange], [b3_red2, C.red], [b3_teal, C.aqua]],
    IRNSS, SBAS
  ]
];

// ---- layout ----
const PANEL_BG = { warn: '#fdebd0', ok: '#f0fbe8', alert: '#f5d6d6' };
const COL_X = [64, 323, 583, 842, 1101, 1360];
const ROW_Y = [53, 307, 561];
const PW = 247, PH = 240;
const PAD_L = 42, PAD_R = 4, PAD_T = 4, PAD_B = 18;
const X_MIN = 474, X_MAX = 6766, Y_MIN = -4.9, Y_MAX = 105.4;
const LINE_WIDTH = 1.45;

Chart.defaults.font.family = '"DejaVu Sans", sans-serif';

function rgba(hex, a) {
  const n = parseInt(hex.slice(1), 16);
  return 'rgba(' + (n >> 16 & 255) + ',' + (n >> 8 & 255) + ',' + (n & 255) + ',' + a + ')';
}

function lineDataset(values, color, times, width, alpha) {
  const tt = times || T;
  return {
    data: tt.map((t, i) => ({ x: t, y: values[i] === undefined ? null : values[i] })),
    borderColor: rgba(color, alpha || 0.85),
    borderWidth: width || LINE_WIDTH,
    pointRadius: 0,
    fill: false,
    tension: 0,
    spanGaps: false
  };
}

// panel background, clipping of the line layer at 100 deg, threshold lines and the frame
const panelDeco = {
  id: 'panelDeco',
  beforeDraw(chart, args, opts) {
    const a = chart.chartArea, ctx = chart.ctx;
    ctx.save();
    ctx.fillStyle = opts.background;
    ctx.fillRect(a.left, a.top, a.right - a.left, a.bottom - a.top);
    ctx.restore();
  },
  beforeDatasetsDraw(chart) {
    const a = chart.chartArea, ctx = chart.ctx;
    const yTop = chart.scales.y.getPixelForValue(100) - 1;
    ctx.save();
    ctx.beginPath();
    ctx.rect(a.left, yTop, a.right - a.left, a.bottom - yTop);
    ctx.clip();
  },
  afterDatasetsDraw(chart) {
    const a = chart.chartArea, ctx = chart.ctx;
    ctx.restore();
    ctx.save();
    ctx.lineWidth = 1.3;
    ctx.setLineDash([4.5, 2.2]);
    THRESHOLD_VALUES.forEach((v, i) => {
      const y = Math.round(chart.scales.y.getPixelForValue(v)) + 0.5;
      ctx.strokeStyle = THRESHOLD_COLORS[i];
      ctx.beginPath();
      ctx.moveTo(a.left, y);
      ctx.lineTo(a.right, y);
      ctx.stroke();
    });
    ctx.restore();
  },
  afterDraw(chart) {
    const a = chart.chartArea, ctx = chart.ctx;
    ctx.save();
    ctx.strokeStyle = '#8e8e8e';
    ctx.lineWidth = 1;
    ctx.strokeRect(a.left - 0.5, a.top - 0.5, a.right - a.left + 1, a.bottom - a.top + 1);
    ctx.restore();
  }
};

function addText(cls, text, left, top) {
  const d = document.createElement('div');
  d.className = 'txt ' + cls;
  d.textContent = text;
  d.style.left = left + 'px';
  d.style.top = top + 'px';
  document.body.appendChild(d);
}

function makePanel(r, c) {
  const W = PW + PAD_L + PAD_R, H = PH + PAD_T + PAD_B;
  const cv = document.createElement('canvas');
  cv.width = W; cv.height = H;
  cv.style.left = (COL_X[c] - PAD_L) + 'px';
  cv.style.top = (ROW_Y[r] - PAD_T) + 'px';
  cv.style.width = W + 'px';
  cv.style.height = H + 'px';
  document.body.appendChild(cv);

  const datasets = PANEL_SERIES[r][c].map(s => lineDataset(s[0], s[1], s[2], s[3], s[4]));
  const tickFont = { size: 7, family: '"DejaVu Sans", sans-serif' };

  new Chart(cv, {
    type: 'line',
    data: { datasets },
    options: {
      responsive: false,
      animation: false,
      devicePixelRatio: 1,
      events: [],
      layout: { padding: { left: 0, right: PAD_R, top: PAD_T, bottom: 0 }, autoPadding: false },
      plugins: {
        legend: { display: false },
        tooltip: { enabled: false },
        title: { display: false },
        panelDeco: { background: PANEL_BG[STATUS[r][c]] }
      },
      scales: {
        x: {
          type: 'linear', min: X_MIN, max: X_MAX,
          afterBuildTicks: s => { s.ticks = X_TICKS.map(v => ({ value: v })); },
          afterFit: s => { s.height = PAD_B; },
          ticks: { display: r === 2, font: tickFont, color: '#444', padding: 1, maxRotation: 0, autoSkip: false, callback: v => String(v) },
          grid: { display: true, drawOnChartArea: false, drawTicks: true, tickLength: 3, color: '#777', lineWidth: 1 },
          border: { display: false }
        },
        y: {
          type: 'linear', min: Y_MIN, max: Y_MAX,
          afterBuildTicks: s => { s.ticks = Y_TICKS.map(v => ({ value: v })); },
          afterFit: s => { s.width = PAD_L; },
          ticks: { display: c === 0, font: tickFont, color: '#444', padding: 1, autoSkip: false, callback: v => String(v) },
          grid: { display: true, drawOnChartArea: false, drawTicks: true, tickLength: 3, color: '#777', lineWidth: 1 },
          border: { display: false }
        }
      }
    },
    plugins: [panelDeco]
  });
}

for (let r = 0; r < 3; r++) {
  for (let c = 0; c < 6; c++) makePanel(r, c);
}

// titles and axis labels
addText('sup', '3-Day Observation @ 20:00:00', 813, 20);
CONSTELLATIONS.forEach((name, c) => addText('col', name, COL_X[c] + PW / 2, 37));
DAYS.forEach((day, r) => {
  addText('yl', day, 23.3, ROW_Y[r] + PH / 2);
  addText('yl', 'Angular Seperation [Deg]', 35.1, ROW_Y[r] + PH / 2);
});
CONSTELLATIONS.forEach((name, c) => addText('xl', 'Time [sec]', COL_X[c] + PW / 2, 814.3));
</script>
</body>
</html>
